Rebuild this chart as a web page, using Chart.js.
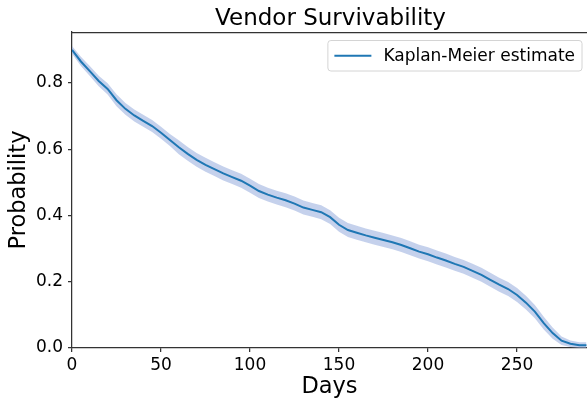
<!DOCTYPE html>
<html>
<head>
<meta charset="utf-8">
<script src="https://cdn.jsdelivr.net/npm/chart.js@4.4.1/dist/chart.umd.min.js"></script>
<style>
  html, body { margin: 0; padding: 0; background: #ffffff; }
  #wrap { width: 587px; height: 405px; }
</style>
</head>
<body>
<div id="wrap"><canvas id="km"></canvas></div>
<script>
// Survival curve read at 5-day intervals
const days = [0,5,10,15,20,25,30,35,40,45,50,55,60,65,70,75,80,85,90,95,100,105,110,115,120,125,130,135,140,145,150,155,160,165,170,175,180,185,190,195,200,205,210,215,220,225,230,235,240,245,250,255,260,265,270,275,280,285,289];
const survival = [0.900,0.865,0.836,0.806,0.782,0.748,0.722,0.702,0.686,0.670,0.650,0.628,0.606,0.586,0.568,0.553,0.540,0.527,0.516,0.505,0.490,0.474,0.463,0.454,0.446,0.436,0.424,0.417,0.410,0.395,0.372,0.356,0.348,0.340,0.333,0.326,0.319,0.311,0.301,0.291,0.283,0.273,0.264,0.254,0.245,0.233,0.221,0.206,0.191,0.178,0.160,0.137,0.110,0.075,0.045,0.022,0.013,0.008,0.008];
// Confidence interval bounds
const ciUpper = [0.912,0.879,0.851,0.822,0.799,0.766,0.740,0.720,0.704,0.688,0.668,0.646,0.627,0.607,0.589,0.574,0.561,0.548,0.537,0.526,0.511,0.495,0.484,0.475,0.467,0.457,0.445,0.438,0.431,0.416,0.393,0.377,0.369,0.361,0.354,0.347,0.340,0.332,0.322,0.312,0.304,0.294,0.285,0.275,0.266,0.254,0.242,0.227,0.212,0.199,0.181,0.158,0.130,0.094,0.062,0.035,0.023,0.017,0.017];
const ciLower = [0.888,0.851,0.821,0.790,0.765,0.730,0.704,0.684,0.668,0.652,0.632,0.610,0.585,0.565,0.547,0.532,0.519,0.506,0.495,0.484,0.469,0.453,0.442,0.433,0.425,0.415,0.403,0.396,0.389,0.374,0.351,0.335,0.327,0.319,0.312,0.305,0.298,0.290,0.280,0.270,0.262,0.252,0.243,0.233,0.224,0.212,0.200,0.185,0.170,0.157,0.139,0.116,0.090,0.056,0.028,0.009,0.003,0.000,0.000];

const xTicks = [0, 50, 100, 150, 200, 250];
const yTicks = [0.0, 0.2, 0.4, 0.6, 0.8];

const TITLE = 'Vendor Survivability';
const FONT = "'DejaVu Sans', 'Liberation Sans', sans-serif";
const LINE_COLOR = '#1f77b4';
const BAND_COLOR = 'rgba(150, 172, 220, 0.55)';
const SPINE_COLOR = '#333333';

const pts = arr => days.map((d, i) => ({ x: d, y: arr[i] }));

// top spine and a title centred over the plot area
const frame = {
  id: 'frame',
  afterDraw(chart) {
    const { ctx, chartArea: a } = chart;
    ctx.save();
    ctx.strokeStyle = SPINE_COLOR;
    ctx.lineWidth = 1.25;
    ctx.beginPath();
    ctx.moveTo(a.left, a.top + 0.5);
    ctx.lineTo(a.right, a.top + 0.5);
    ctx.stroke();
    ctx.fillStyle = '#000000';
    ctx.font = '23px ' + FONT;
    ctx.textAlign = 'center';
    ctx.textBaseline = 'alphabetic';
    ctx.fillText(TITLE, (a.left + a.right) / 2 + 1, a.top - 7);
    ctx.restore();
  }
};

// boxed legend in the upper-right corner of the plot area
const boxLegend = {
  id: 'boxLegend',
  afterDraw(chart) {
    const { ctx, chartArea: a } = chart;
    const ds = chart.data.datasets[0];
    ctx.save();
    ctx.font = '17px ' + FONT;
    const tw = ctx.measureText(ds.label).width;
    const padL = 6.5, sample = 37, gap = 12, padR = 7;
    const w = padL + sample + gap + tw + padR;
    const h = 30.5;
    const x = a.right - 5 - w;
    const y = a.top + 8.5;
    const r = 3;
    ctx.fillStyle = 'rgba(255,255,255,0.8)';
    ctx.strokeStyle = '#d4d4d4';
    ctx.lineWidth = 1;
    ctx.beginPath();
    ctx.moveTo(x + r, y);
    ctx.lineTo(x + w - r, y);
    ctx.arcTo(x + w, y, x + w, y + r, r);
    ctx.lineTo(x + w, y + h - r);
    ctx.arcTo(x + w, y + h, x + w - r, y + h, r);
    ctx.lineTo(x + r, y + h);
    ctx.arcTo(x, y + h, x, y + h - r, r);
    ctx.lineTo(x, y + r);
    ctx.arcTo(x, y, x + r, y, r);
    ctx.closePath();
    ctx.fill();
    ctx.stroke();
    ctx.strokeStyle = ds.borderColor;
    ctx.lineWidth = 2;
    ctx.beginPath();
    ctx.moveTo(x + padL, y + h / 2);
    ctx.lineTo(x + padL + sample, y + h / 2);
    ctx.stroke();
    ctx.fillStyle = '#000000';
    ctx.textBaseline = 'middle';
    ctx.textAlign = 'left';
    ctx.fillText(ds.label, x + padL + sample + gap, y + h / 2 + 1);
    ctx.restore();
  }
};

new Chart(document.getElementById('km'), {
  type: 'line',
  data: {
    datasets: [
      {
        label: 'Kaplan-Meier estimate',
        data: pts(survival),
        borderColor: LINE_COLOR,
        borderWidth: 2,
        pointRadius: 0,
        tension: 0,
        fill: false
      },
      {
        label: 'upper',
        data: pts(ciUpper),
        borderWidth: 0,
        pointRadius: 0,
        backgroundColor: BAND_COLOR,
        fill: '+1'
      },
      {
        label: 'lower',
        data: pts(ciLower),
        borderWidth: 0,
        pointRadius: 0,
        backgroundColor: BAND_COLOR,
        fill: false
      }
    ]
  },
  options: {
    responsive: true,
    maintainAspectRatio: false,
    animation: false,
    layout: { padding: { left: 0, right: 0, top: 32, bottom: 0 } },
    plugins: {
      legend: { display: false },
      tooltip: { enabled: false },
      title: { display: false }
    },
    scales: {
      x: {
        type: 'linear',
        min: 0,
        max: 289.3,
        afterFit(scale) { scale.height = 57; },
        afterBuildTicks(scale) { scale.ticks = xTicks.map(v => ({ value: v })); },
        ticks: {
          includeBounds: false,
          color: '#000000',
          font: { family: FONT, size: 17 },
          padding: 3,
          maxRotation: 0,
          autoSkip: false,
          callback: v => String(v)
        },
        grid: { drawOnChartArea: false, drawTicks: true, tickLength: 4, color: SPINE_COLOR, lineWidth: 1.25 },
        border: { display: true, color: SPINE_COLOR, width: 1.25 },
        title: {
          display: true,
          text: 'Days',
          color: '#000000',
          font: { family: FONT, size: 22.5 },
          padding: { top: 0, bottom: 4 }
        }
      },
      y: {
        type: 'linear',
        min: 0,
        max: 0.954,
        afterFit(scale) { scale.width = 72; },
        afterBuildTicks(scale) { scale.ticks = yTicks.map(v => ({ value: v })); },
        ticks: {
          includeBounds: false,
          color: '#000000',
          font: { family: FONT, size: 17 },
          padding: 5,
          autoSkip: false,
          callback: v => Number(v).toFixed(1)
        },
        grid: { drawOnChartArea: false, drawTicks: true, tickLength: 4, color: SPINE_COLOR, lineWidth: 1.25 },
        border: { display: true, color: SPINE_COLOR, width: 1.25 },
        title: {
          display: true,
          text: 'Probability',
          color: '#000000',
          font: { family: FONT, size: 22.5 },
          padding: { top: 6, bottom: 0 }
        }
      }
    }
  },
  plugins: [frame, boxLegend]
});
</script>
</body>
</html>
